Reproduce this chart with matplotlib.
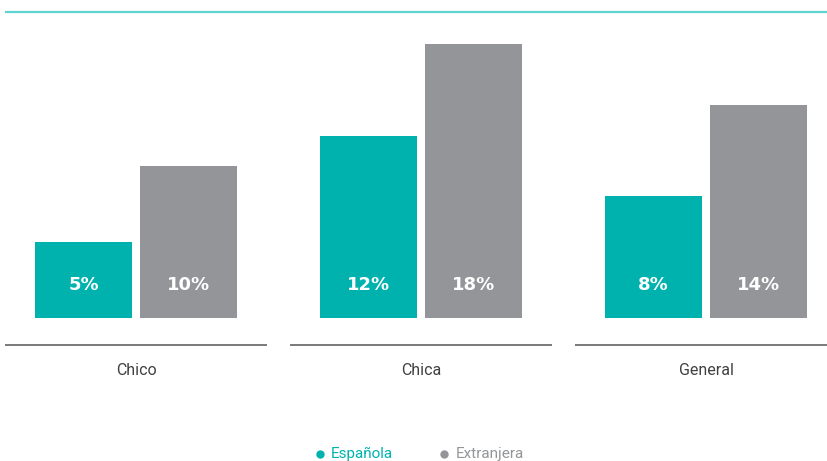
import matplotlib
matplotlib.use("Agg")
import matplotlib.pyplot as plt
import numpy as np

categories = ["Chico", "Chica", "General"]
series = ["Española", "Extranjera"]
espanola = [5, 12, 8]
extranjera = [10, 18, 14]
value_labels_esp = ["5%", "12%", "8%"]
value_labels_ext = ["10%", "18%", "14%"]

TEAL = "#00B2AE"
GRAY = "#939598"
LINE_TEAL = "#5ED3CF"

fig = plt.figure(figsize=(8.27, 4.61), dpi=100)
ax = fig.add_axes([0, 0, 1, 1])
ax.set_xlim(-136 / 285, (827 - 136) / 285)
ax.set_ylim(-143 / 15.2, (461 - 143) / 15.2)
ax.axis("off")

x = np.arange(len(categories))
w = 97 / 285
off = 52.5 / 285
ax.bar(x - off, espanola, width=w, color=TEAL, linewidth=0)
ax.bar(x + off, extranjera, width=w, color=GRAY, linewidth=0)

ylab = 33 / 15.2
for i in range(len(categories)):
    ax.text(x[i] - off, ylab, value_labels_esp[i], ha="center", va="center",
            color="white", fontsize=13, fontweight="bold", family="DejaVu Sans")
    ax.text(x[i] + off, ylab, value_labels_ext[i], ha="center", va="center",
            color="white", fontsize=13, fontweight="bold", family="DejaVu Sans")
    ax.plot([x[i] - 131 / 285, x[i] + 131 / 285], [-27 / 15.2] * 2,
            color="#6d6e71", lw=1.3, solid_capstyle="butt")
    ax.text(x[i], -52 / 15.2, categories[i], ha="center", va="center",
            color="#404040", fontsize=11.5, family="Roboto", fontweight="normal")

# top rule
ax.plot([-131 / 285, (827 - 136) / 285], [306 / 15.2] * 2, color=LINE_TEAL,
        lw=1.6, solid_capstyle="butt")

# legend
ly = -136 / 15.2
ax.plot([(320 - 136) / 285], [ly], "o", color=TEAL, ms=5)
ax.text((331 - 136) / 285, ly, series[0], ha="left", va="center", color=TEAL,
        fontsize=11, family="Roboto", fontweight="normal")
ax.plot([(444 - 136) / 285], [ly], "o", color=GRAY, ms=5)
ax.text((456 - 136) / 285, ly, series[1], ha="left", va="center", color=GRAY,
        fontsize=11, family="Roboto", fontweight="normal")

fig.savefig("out.png", dpi=100)
